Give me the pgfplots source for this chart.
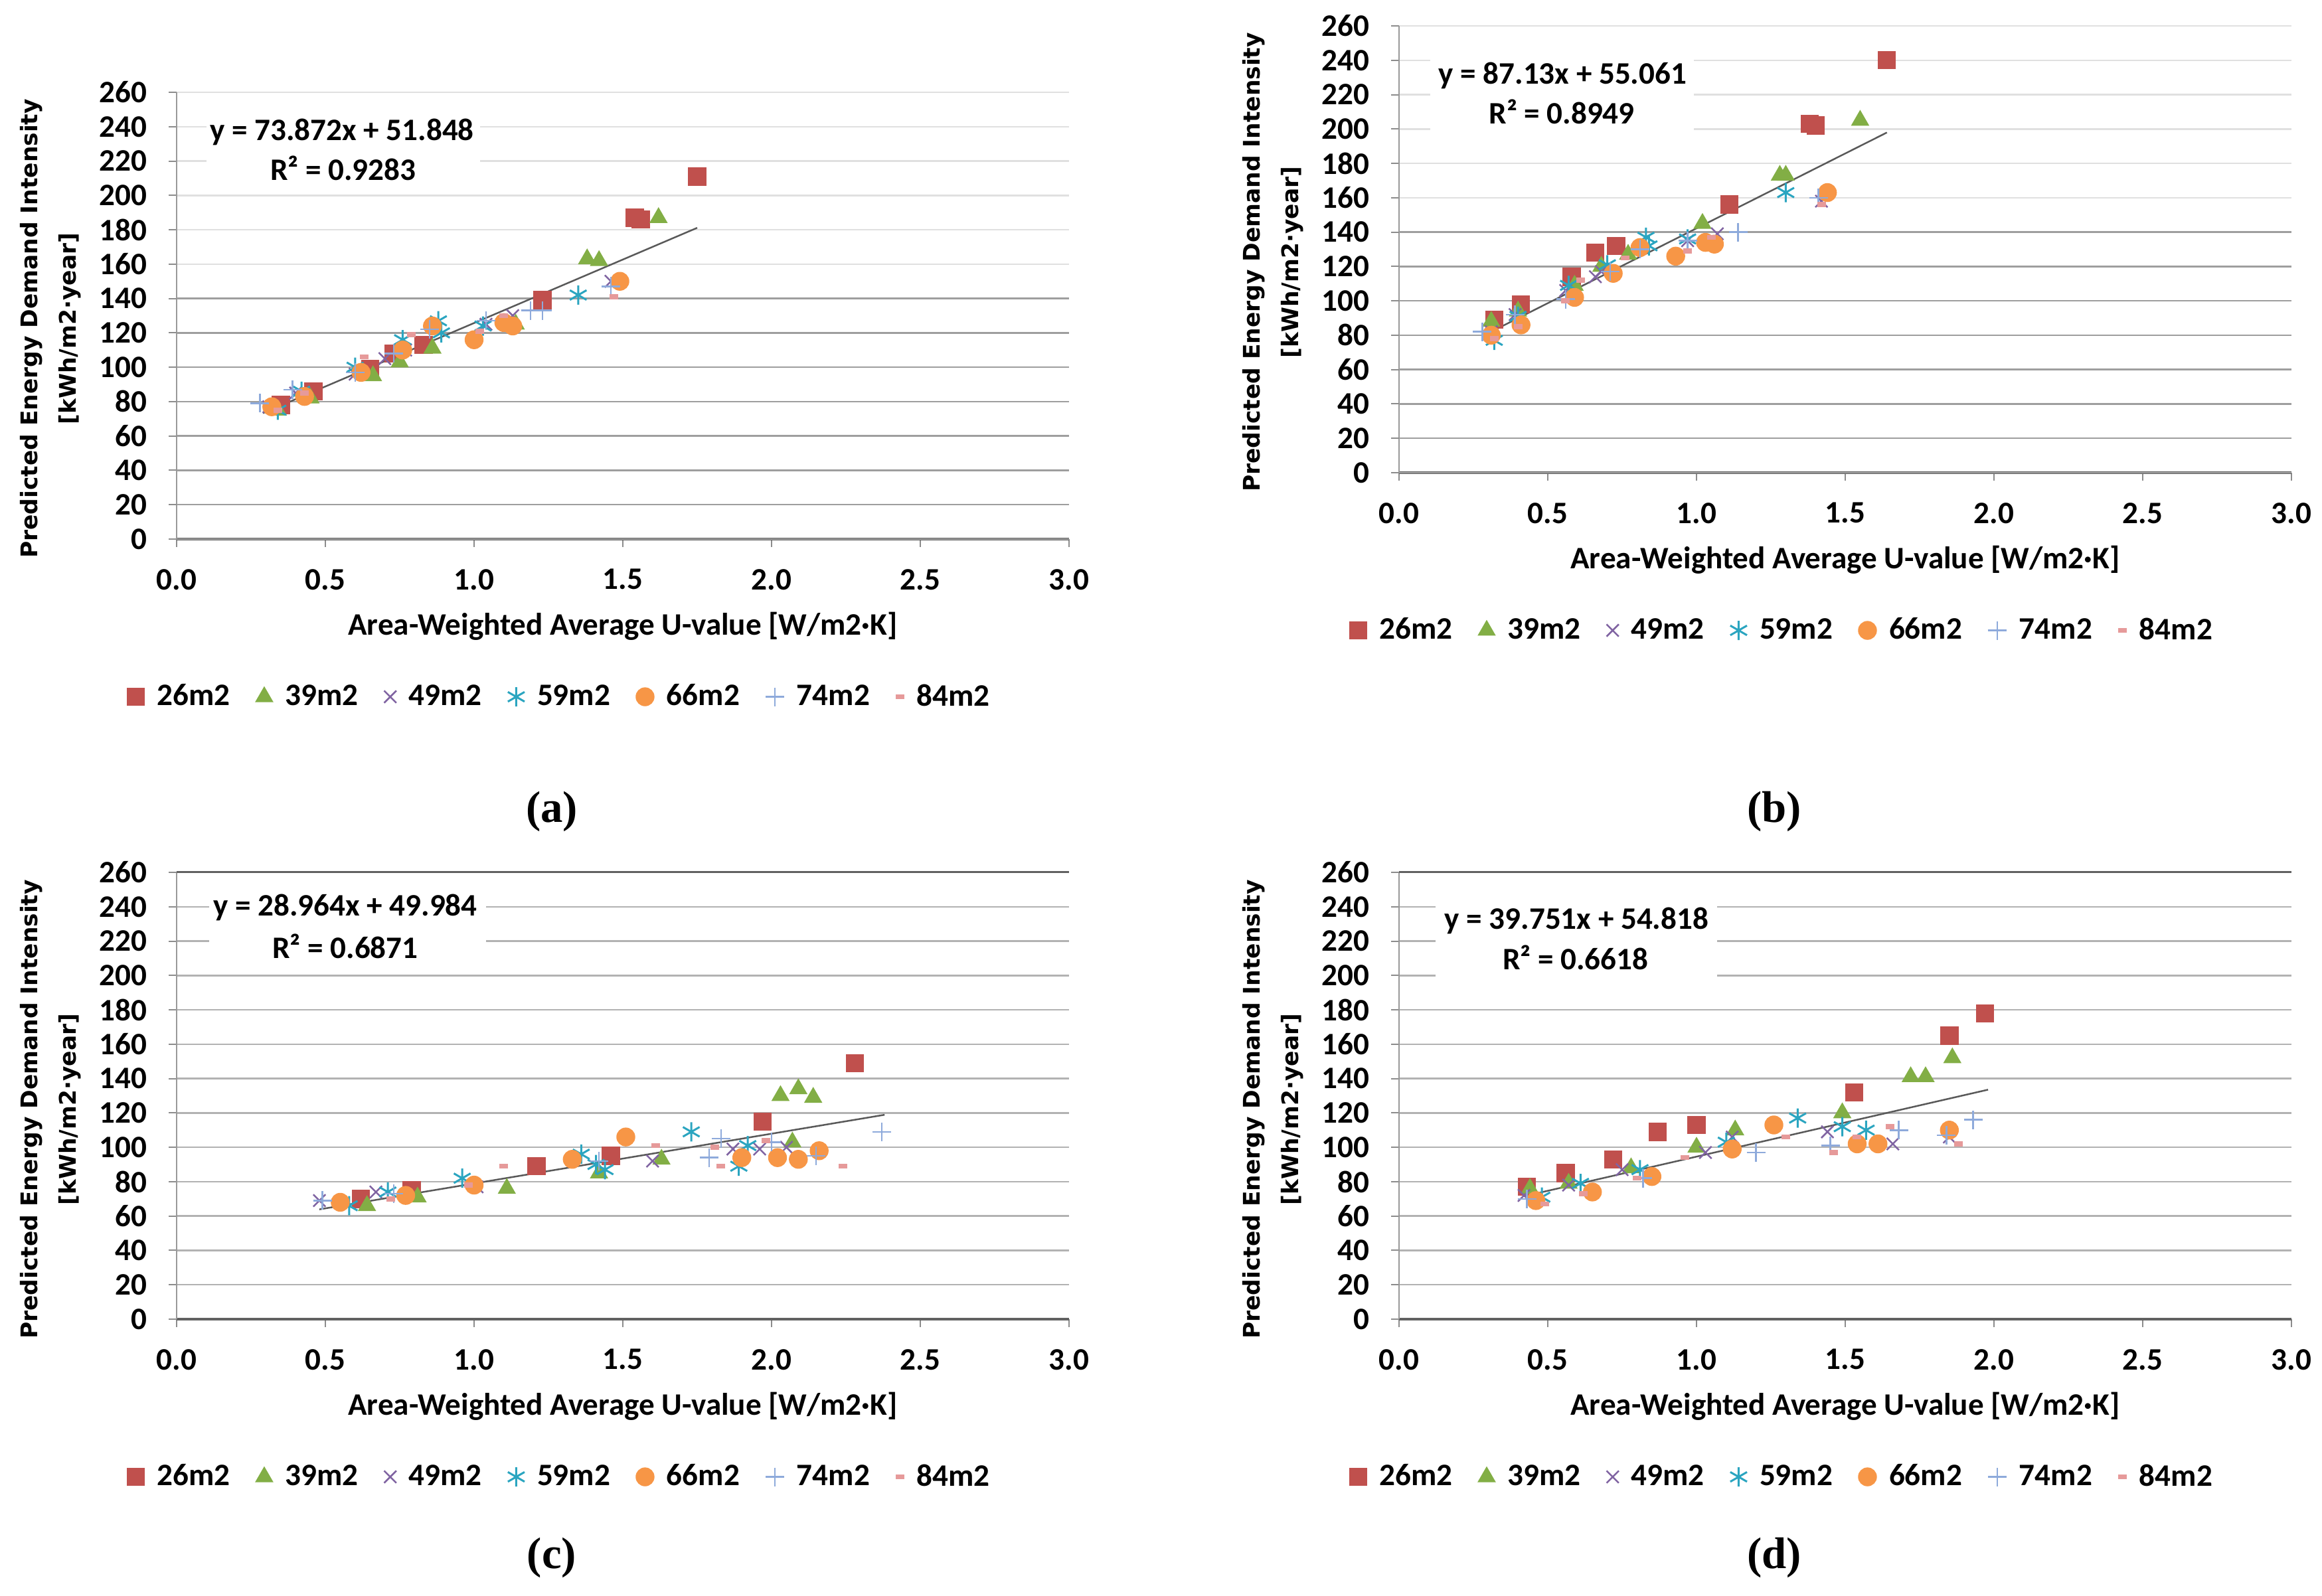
\documentclass[border=0pt]{standalone}
\usepackage{pgfplots}
\pgfplotsset{compat=1.18}
\usepackage{fontspec}
\setmainfont{Carlito}
\newfontfamily\dejavu{DejaVu Sans}
\newfontfamily\libserif{Liberation Serif}
\definecolor{c26}{HTML}{C0504D}
\definecolor{c39}{HTML}{82AE45}
\definecolor{c49}{HTML}{8064A2}
\definecolor{c59}{HTML}{2BA5C0}
\definecolor{c66}{HTML}{F79646}
\definecolor{c74}{HTML}{8EAADB}
\definecolor{c84}{HTML}{E69A9A}
\newcommand\tfont{\fontsize{13.4}{16}\selectfont\bfseries}
\newcommand\yfont{\dejavu\fontsize{9.8}{16.5}\selectfont\bfseries}
\newcommand\cfont{\libserif\fontsize{19}{23}\selectfont\bfseries}
\pgfplotsset{
  myleg/.style={legend image code/.code={\draw[##1] plot coordinates {(0mm,0mm)};}},
  s26/.style={only marks, mark=square*, mark size=1.3mm, color=c26, myleg},
  s39/.style={only marks, mark=triangle*, mark size=1.45mm, color=c39, myleg},
  s49/.style={only marks, mark=x, mark size=1.3mm, color=c49, mark options={line width=0.25mm}, myleg},
  s59/.style={only marks, mark=asterisk, mark size=1.45mm, color=c59, mark options={line width=0.3mm}, myleg},
  s66/.style={only marks, mark=*, mark size=1.35mm, color=c66, myleg},
  s74/.style={only marks, mark=+, mark size=1.4mm, color=c74, mark options={line width=0.25mm}, myleg},
  s84/.style={only marks, mark=-, mark size=0.65mm, color=c84, mark options={line width=0.75mm}, myleg},
  trend/.style={black!65, line width=0.25mm, no marks, forget plot},
  panel/.style={
    scale only axis, width=134.4mm, height=67.3mm,
    xmin=0, xmax=3, ymin=0, ymax=260,
    xtick={0,0.5,1,1.5,2,2.5,3},
    axis x line*=bottom, axis y line*=left,
    x axis line style={draw=black!62, line width=0.4mm},
    y axis line style={draw=black!40, line width=0.2mm},
    tick align=outside, major tick length=1.2mm,
    tick style={draw=black!45, line width=0.2mm},
    /pgf/number format/assume math mode=true,
    xticklabel style={/pgf/number format/.cd, fixed, fixed zerofill, precision=1, /tikz/.cd, font=\tfont, yshift=-2.1mm},
    yticklabel style={font=\tfont, xshift=-2mm},
    ymajorgrids, clip=false,
    xlabel={Area-Weighted Average U-value [W/m2·K]},
    xlabel style={at={(axis description cs:0.5,0)}, anchor=center, yshift=-13.1mm, font=\tfont},
    legend columns=7,
    legend cell align=left,
    legend style={draw=none, fill=none, inner sep=0pt, font=\tfont,
      at={(axis description cs:-0.056,-0.353)}, anchor=west,
      /tikz/every odd column/.append style={column sep=1.2mm},
      /tikz/every even column/.append style={column sep=3.2mm}},
  },
  lightgrid/.style={
    ytick={160,180,200,220,240,260},
    extra y ticks={0,20,40,60,80,100,120,140},
    grid style={black!12, line width=0.25mm},
    extra y tick style={grid style={black!38, line width=0.25mm}},
  },
  fullgrid/.style={
    ytick={0,20,40,60,80,100,120,140,160,180,200,220,240,260},
    grid style={black!30, line width=0.25mm},
  },
}
\begin{document}
\begin{tikzpicture}
\useasboundingbox (0,0) rectangle (349.7mm,240.4mm);
% ---------------- (a)
\begin{axis}[panel, lightgrid, at={(26.6mm,159.2mm)}, anchor=south west]
\fill[white] (axis cs:0.10,203) rectangle (axis cs:1.02,250);
\addplot[s26] coordinates {(0.35,78) (0.46,86) (0.65,99) (0.73,108) (0.83,113) (1.23,139) (1.54,187) (1.56,186) (1.75,211)};
\addplot[s39] coordinates {(0.34,75) (0.45,82) (0.66,95) (0.75,103) (0.86,111) (1.14,125) (1.38,163) (1.42,162) (1.62,187)};
\addplot[s49] coordinates {(0.31,77) (0.40,85) (0.60,96) (0.70,105) (0.77,110) (1.04,125) (1.13,130) (1.46,150)};
\addplot[s59] coordinates {(0.34,75) (0.42,86) (0.60,100) (0.76,116) (0.88,127) (0.89,120) (1.03,124) (1.35,142)};
\addplot[s66] coordinates {(0.32,77) (0.43,83) (0.62,97) (0.76,110) (0.86,124) (1.00,116) (1.10,126) (1.13,124) (1.49,150)};
\addplot[s74] coordinates {(0.28,79) (0.39,87) (0.60,97) (0.73,108) (0.85,122) (1.04,127) (1.19,133) (1.23,133) (1.46,147)};
\addplot[s84] coordinates {(0.34,75) (0.43,85) (0.63,106) (0.79,119) (1.02,121) (1.10,130) (1.47,141)};
\addplot[trend] coordinates {(0.29,73.27) (1.75,181.12)};
\node[font=\tfont] at (axis cs:0.556,237) {y = 73.872x + 51.848};
\node[font=\tfont] at (axis cs:0.56,216) {R² = 0.9283};
\legend{26m2,39m2,49m2,59m2,66m2,74m2,84m2}
\end{axis}
% ---------------- (b)
\begin{axis}[panel, lightgrid, at={(210.7mm,169.2mm)}, anchor=south west]
\fill[white] (axis cs:0.105,197) rectangle (axis cs:0.99,245);
\addplot[s26] coordinates {(0.32,89) (0.41,98) (0.58,114) (0.66,128) (0.73,132) (1.11,156) (1.38,203) (1.40,202) (1.64,240)};
\addplot[s39] coordinates {(0.31,88) (0.40,94) (0.59,109) (0.68,120) (0.77,127) (1.02,145) (1.28,173) (1.30,173) (1.55,205)};
\addplot[s49] coordinates {(0.31,82) (0.39,92) (0.56,106) (0.66,114) (0.68,117) (0.97,135) (1.07,139) (1.42,158)};
\addplot[s59] coordinates {(0.32,77) (0.40,91) (0.57,109) (0.70,121) (0.83,137) (0.84,132) (0.97,136) (1.30,163)};
\addplot[s66] coordinates {(0.31,80) (0.41,86) (0.59,102) (0.72,116) (0.81,131) (0.93,126) (1.03,134) (1.06,133) (1.44,163)};
\addplot[s74] coordinates {(0.28,82) (0.39,92) (0.56,101) (0.71,117) (0.81,130) (0.97,135) (1.14,140) (1.41,160)};
\addplot[s84] coordinates {(0.32,78) (0.40,85) (0.56,100) (0.61,112) (0.76,125) (0.97,129) (1.05,137) (1.42,156)};
\addplot[trend] coordinates {(0.28,79.46) (1.64,197.95)};
\node[font=\tfont] at (axis cs:0.55,231) {y = 87.13x + 55.061};
\node[font=\tfont] at (axis cs:0.547,210) {R² = 0.8949};
\legend{26m2,39m2,49m2,59m2,66m2,74m2,84m2}
\end{axis}
% ---------------- (c)
\begin{axis}[panel, fullgrid, at={(26.6mm,41.7mm)}, anchor=south west]
\draw[black!62, line width=0.3mm] (axis cs:0,260) -- (axis cs:3,260);
\fill[white] (axis cs:0.11,204) rectangle (axis cs:1.04,252);
\addplot[s26] coordinates {(0.62,70) (0.79,75) (1.21,89) (1.46,95) (1.97,115) (2.28,149)};
\addplot[s39] coordinates {(0.64,66) (0.81,71) (1.11,76) (1.42,85) (1.63,93) (2.03,130) (2.07,103) (2.09,134) (2.14,129)};
\addplot[s49] coordinates {(0.48,69) (0.67,74) (1.01,77) (1.60,92) (1.87,99) (1.96,99) (2.05,100)};
\addplot[s59] coordinates {(0.58,66) (0.71,74) (0.96,82) (1.36,96) (1.41,90) (1.44,87) (1.73,109) (1.89,89) (1.92,101)};
\addplot[s66] coordinates {(0.55,68) (0.77,72) (1.00,78) (1.33,93) (1.51,106) (1.90,94) (2.02,94) (2.09,93) (2.16,98)};
\addplot[s74] coordinates {(0.49,69) (0.73,73) (1.42,92) (1.79,94) (1.83,105) (2.00,103) (2.15,95) (2.37,109)};
\addplot[s84] coordinates {(0.72,70) (0.98,78) (1.10,89) (1.61,101) (1.81,100) (1.83,89) (1.98,104) (2.24,89)};
\addplot[trend] coordinates {(0.48,63.89) (2.38,118.92)};
\node[font=\tfont] at (axis cs:0.567,239.5) {y = 28.964x + 49.984};
\node[font=\tfont] at (axis cs:0.567,217) {R² = 0.6871};
\legend{26m2,39m2,49m2,59m2,66m2,74m2,84m2}
\end{axis}
% ---------------- (d)
\begin{axis}[panel, fullgrid, at={(210.7mm,41.7mm)}, anchor=south west]
\draw[black!62, line width=0.3mm] (axis cs:0,260) -- (axis cs:3,260);
\fill[white] (axis cs:0.123,197) rectangle (axis cs:1.069,245);
\addplot[s26] coordinates {(0.43,77) (0.56,85) (0.72,93) (0.87,109) (1.00,113) (1.53,132) (1.85,165) (1.97,178)};
\addplot[s39] coordinates {(0.44,76) (0.57,79) (0.78,88) (1.00,100) (1.13,110) (1.49,120) (1.72,141) (1.77,141) (1.86,152)};
\addplot[s49] coordinates {(0.42,72) (0.57,78) (0.75,87) (1.03,97) (1.12,106) (1.44,109) (1.66,102) (1.85,106)};
\addplot[s59] coordinates {(0.48,71) (0.61,79) (0.81,87) (1.10,103) (1.34,117) (1.49,112) (1.57,110)};
\addplot[s66] coordinates {(0.46,69) (0.65,74) (0.85,83) (1.12,99) (1.26,113) (1.54,102) (1.61,102) (1.85,110)};
\addplot[s74] coordinates {(0.43,70) (0.82,82) (1.20,97) (1.45,101) (1.68,110) (1.84,107) (1.93,116)};
\addplot[s84] coordinates {(0.49,67) (0.62,73) (0.80,82) (0.96,94) (1.30,106) (1.46,97) (1.54,106) (1.65,112) (1.88,102)};
\addplot[trend] coordinates {(0.42,71.51) (1.98,133.53)};
\node[font=\tfont] at (axis cs:0.597,232) {y = 39.751x + 54.818};
\node[font=\tfont] at (axis cs:0.593,210.6) {R² = 0.6618};
\legend{26m2,39m2,49m2,59m2,66m2,74m2,84m2}
\end{axis}
% ---------------- y labels
\node[rotate=90, align=center, font=\yfont] at (7.6mm,190.9mm) {Predicted Energy Demand Intensity\\{[kWh/m2·year]}};
\node[rotate=90, align=center, font=\yfont] at (191.7mm,200.9mm) {Predicted Energy Demand Intensity\\{[kWh/m2·year]}};
\node[rotate=90, align=center, font=\yfont] at (7.6mm,73.3mm) {Predicted Energy Demand Intensity\\{[kWh/m2·year]}};
\node[rotate=90, align=center, font=\yfont] at (191.7mm,73.3mm) {Predicted Energy Demand Intensity\\{[kWh/m2·year]}};
% ---------------- captions
\node[font=\cfont] at (83.1mm,118.2mm) {(a)};
\node[font=\cfont] at (267.2mm,118.2mm) {(b)};
\node[font=\cfont] at (83.1mm,5.8mm) {(c)};
\node[font=\cfont] at (267.2mm,5.8mm) {(d)};
\end{tikzpicture}
\end{document}
